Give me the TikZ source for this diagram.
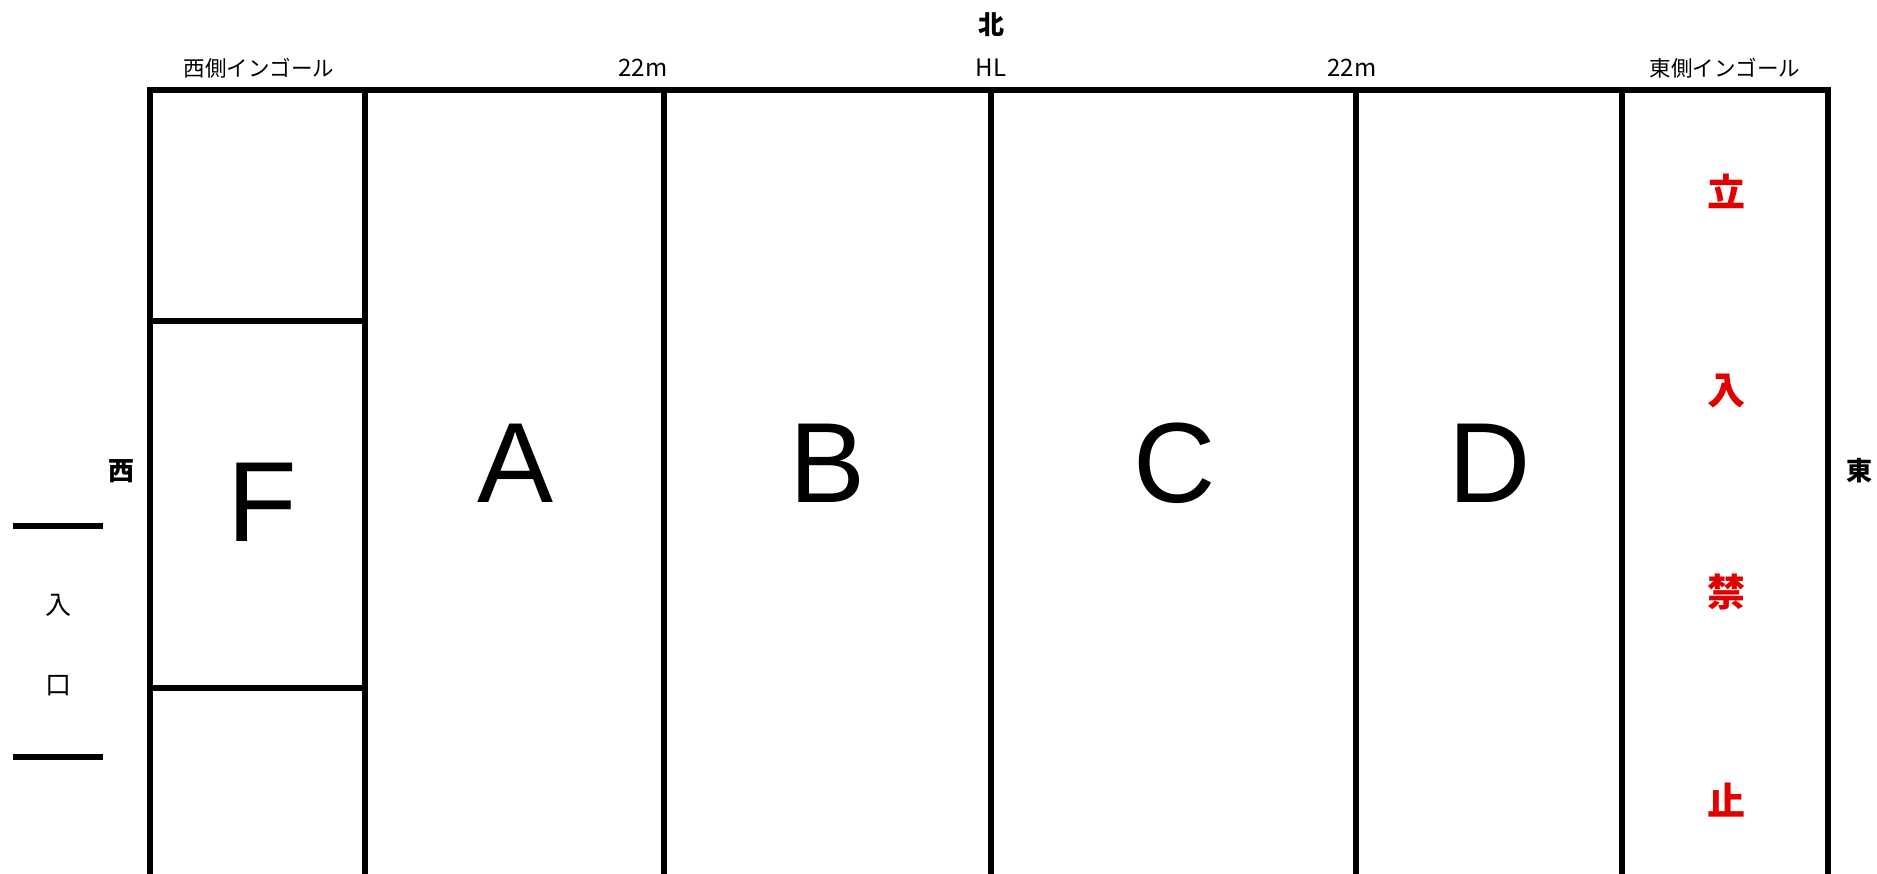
\documentclass[tikz,border=0pt]{standalone}
\usepackage{fontspec}
\setmainfont{Liberation Sans}
\newfontfamily\jp{Noto Sans CJK JP}
\definecolor{kinred}{RGB}{224,0,0}
\begin{document}
\begin{tikzpicture}[x=1pt,y=-1pt,
  wall/.style={line width=6pt,line join=miter},
  door/.style={line width=6pt},
  small/.style={font=\jp\fontsize{21.5}{21.5}\selectfont,inner sep=0pt},
  num/.style={font=\jp\fontsize{24}{24}\selectfont,inner sep=0pt},
  dir/.style={font=\jp\bfseries\fontsize{26}{26}\selectfont,inner sep=0pt},
  ent/.style={font=\jp\fontsize{26}{26}\selectfont,inner sep=0pt},
  zone/.style={font=\fontsize{114}{114}\selectfont,inner sep=0pt,anchor=base},
  ban/.style={font=\jp\bfseries\fontsize{38}{38}\selectfont,text=kinred,inner sep=0pt}]
\useasboundingbox (0,0) rectangle (1877,874);
% grid coordinates
\coordinate (w0) at (150,874);
\coordinate (nw) at (150,90);
\coordinate (ne) at (1828,90);
\coordinate (e0) at (1828,874);
\draw[wall] (w0) -- (nw) -- (ne) -- (e0);
\foreach \n/\x in {v1/365,v2/664,v3/991,v4/1356,v5/1622}{
  \coordinate (\n t) at (\x,90);
  \coordinate (\n b) at (\x,874);
  \draw[wall] (\n t) -- (\n b);
}
\coordinate (f1l) at (150,321); \coordinate (f1r) at (365,321);
\coordinate (f2l) at (150,688); \coordinate (f2r) at (365,688);
\draw[wall] (f1l) -- (f1r);
\draw[wall] (f2l) -- (f2r);
% entrance
\coordinate (d1l) at (13,526); \coordinate (d1r) at (103,526);
\coordinate (d2l) at (13,757); \coordinate (d2r) at (103,757);
\draw[door] (d1l) -- (d1r);
\draw[door] (d2l) -- (d2r);
\node[ent] (ir) at (58,605) {入};
\node[ent] (ku) at (58,686) {口};
% labels
\node[dir] (kita) at (991,25) {北};
\node[dir] (nishi) at (121,471) {西};
\node[dir] (higashi) at (1859,471) {東};
\node[small] (wig) at (259,68) {西側インゴール};
\node[num] (m1) at (643,68) {22m};
\node[num] (hl) at (991,68) {HL};
\node[num] (m2) at (1352,68) {22m};
\node[small] (eig) at (1725,68) {東側インゴール};
% zones
\node[zone] (F) at (262,541) {F};
\node[zone] (A) at (516,502) {A};
\node[zone] (B) at (828,502) {B};
\node[zone] (C) at (1175,502) {C};
\node[zone] (D) at (1490,502) {D};
% prohibition
\node[ban] (t1) at (1726,191) {立};
\node[ban] (t2) at (1726,391) {入};
\node[ban] (t3) at (1726,592) {禁};
\node[ban] (t4) at (1726,800) {止};
\end{tikzpicture}
\end{document}
